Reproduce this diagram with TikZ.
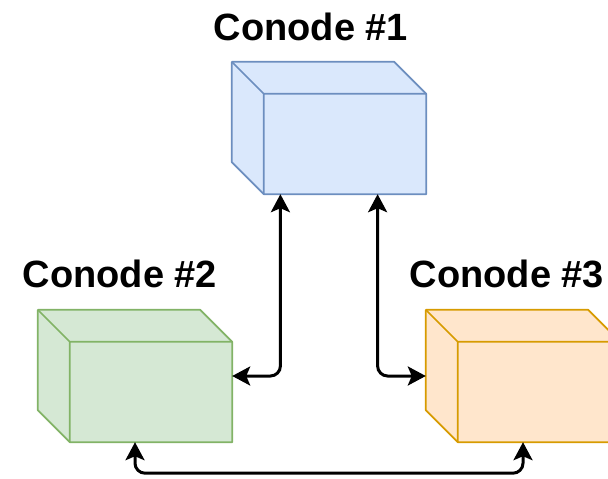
\documentclass[tikz,border=0pt]{standalone}
\usepackage{fontspec}
\setmainfont{Liberation Sans}
\usetikzlibrary{calc,arrows.meta}

% a draw.io-style cube filling the bounding rectangle of node #1
\newcommand\drawcube[3]{%
  \filldraw[fill=#2,draw=#3,cubeline]
    (#1.north west) -- ($(#1.north east)+(-32,0)$) -- ($(#1.north east)+(0,32)$)
    -- (#1.south east) -- ($(#1.south west)+(32,0)$) -- ($(#1.south west)+(0,-32)$) -- cycle;
  \draw[draw=#3,cubeline]
    (#1.north west) -- ($(#1.north west)+(32,32)$) -- ($(#1.north east)+(0,32)$)
    ($(#1.north west)+(32,32)$) -- ($(#1.south west)+(32,0)$);
}

\definecolor{bluefill}{HTML}{DAE8FC}\definecolor{bluedraw}{HTML}{6C8EBF}
\definecolor{greenfill}{HTML}{D5E8D4}\definecolor{greendraw}{HTML}{82B366}
\definecolor{orangefill}{HTML}{FFE6CC}\definecolor{orangedraw}{HTML}{D79B00}

\tikzset{
  cubeline/.style={line width=1.7pt,line join=round},
  cubebox/.style={inner sep=0pt,minimum width=194pt,minimum height=132pt},
  title/.style={anchor=base,inner sep=0pt,font=\fontsize{38}{44}\selectfont\bfseries},
  conn/.style={line width=3pt,rounded corners=10pt,
    {Stealth[length=18pt,width=19pt,inset=4pt]}-{Stealth[length=18pt,width=19pt,inset=4pt]}},
}

\begin{document}
\begin{tikzpicture}[x=1pt,y=-1pt]
  \clip (0,0) rectangle (608,479);
  \useasboundingbox (0,0) rectangle (608,479);

  \node[cubebox] (n1) at (329,128) {};
  \node[cubebox] (n2) at (135,376) {};
  \node[cubebox] (n3) at (523,376) {};

  \drawcube{n1}{bluefill}{bluedraw}
  \drawcube{n2}{greenfill}{greendraw}
  \drawcube{n3}{orangefill}{orangedraw}

  \node[title] (t1) at (311,40) {Conode \#1};
  \node[title] (t2) at (120,287) {Conode \#2};
  \node[title] (t3) at (507,287) {Conode \#3};

  \coordinate (p1) at ($(n1.south west)!0.25!(n1.south east)$);
  \coordinate (p2) at ($(n1.south west)!0.75!(n1.south east)$);

  \draw[conn] (n2.east) -| (p1);
  \draw[conn] (p2) |- (n3.west);
  \draw[conn] (n2.south) -- ++(0,31) -| (n3.south);
\end{tikzpicture}
\end{document}
